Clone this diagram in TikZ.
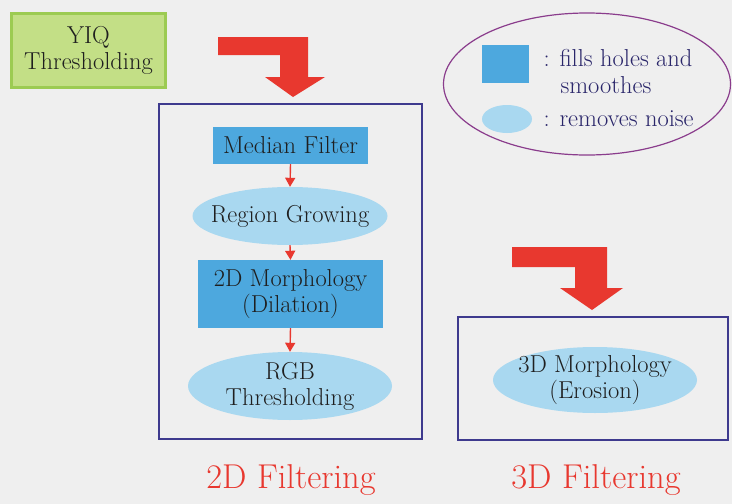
\documentclass[tikz,border=0pt]{standalone}
\usepackage{xcolor}
\definecolor{paper}{HTML}{EFEFEF}
\definecolor{textmain}{HTML}{1F1F1F}
\definecolor{legendtext}{HTML}{2A266A}
\definecolor{framecol}{HTML}{3E3A8E}
\definecolor{legendedge}{HTML}{8A3C8C}
\definecolor{boxblue}{HTML}{4DA8DE}
\definecolor{ovalblue}{HTML}{A9D8F0}
\definecolor{yiqfill}{HTML}{C3DF86}
\definecolor{yiqedge}{HTML}{9CCB52}
\definecolor{bigred}{HTML}{E8382F}
\usetikzlibrary{shapes.geometric, arrows.meta, positioning, calc}

\begin{document}
\begin{tikzpicture}[
        x=1pt, y=-1pt,
        font=\fontsize{24.5}{26}\selectfont,
        text=textmain,
        hardbox/.style={
            rectangle,
            fill=boxblue,
            inner sep=0pt,
            align=center
        },
        softoval/.style={
            ellipse,
            fill=ovalblue,
            inner xsep=-18pt, inner ysep=-10pt,
            align=center
        },
        stagebox/.style={
            rectangle,
            draw=framecol,
            line width=1.6pt,
            inner sep=0pt
        },
        flow/.style={draw=bigred, line width=1.4pt, -{Triangle[length=9pt, width=10pt]}},
        bigarrow/.style={fill=bigred},
        stagetitle/.style={anchor=base, text=bigred, font=\fontsize{34.5}{38}\selectfont},
        legendline/.style={anchor=base west, text=legendtext}
    ]

    % Page
    \useasboundingbox (0,0) rectangle (732,504);
    \fill[paper] (0,0) rectangle (732,504);

    % YIQ input
    \node[rectangle, fill=yiqfill, draw=yiqedge, line width=2.5pt, align=center,
          minimum width=154pt, minimum height=74pt, inner sep=0pt] (yiq) at (88.5,50.5) {YIQ\\Thresholding};

    % Big bent arrows
    \fill[bigarrow] (218,37) -- (308,37) -- (308,77) -- (325,77) -- (293,97) -- (265,77)
        -- (280,77) -- (280,55) -- (218,55) -- cycle;
    \fill[bigarrow] (512,247) -- (607,247) -- (607,288) -- (623,288) -- (592,310) -- (560,288)
        -- (575,288) -- (575,267) -- (512,267) -- cycle;

    % 2D filtering stage
    \node[stagebox, minimum width=263pt, minimum height=335pt] (frame2d) at (290.5,271.5) {};
    \node[hardbox, minimum width=155pt, minimum height=37pt] (median) at (290.5,145.5) {Median Filter};
    \node[softoval, minimum width=195pt, minimum height=58pt] (region) at (290,216) {Region Growing};
    \node[hardbox, minimum width=185pt, minimum height=68pt] (dilation) at (290.5,294) {2D Morphology\\(Dilation)};
    \node[softoval, minimum width=204pt, minimum height=68pt] (rgb) at (290,386) {RGB\\Thresholding};

    \draw[flow] (median.south) -- (region.north);
    \draw[flow] (region.south) -- (dilation.north);
    \draw[flow] (dilation.south) -- (rgb.north);

    \node[stagetitle] (title2d) at (291,488) {2D Filtering};

    % 3D filtering stage
    \node[stagebox, minimum width=270pt, minimum height=123pt] (frame3d) at (593,378.5) {};
    \node[softoval, minimum width=204pt, minimum height=66pt] (erosion) at (595,380) {3D Morphology\\(Erosion)};
    \node[stagetitle] (title3d) at (596,488) {3D Filtering};

    % Legend
    \node[ellipse, draw=legendedge, line width=1.2pt, minimum width=287pt, minimum height=142pt,
          inner sep=0pt] (legend) at (587,84) {};
    \node[hardbox, minimum width=47pt, minimum height=38pt] (keybox) at (505.5,64) {};
    \node[softoval, minimum width=50pt, minimum height=28pt] (keyoval) at (507,119) {};
    \node[legendline] (keyfill) at (540,66) {: fills holes and};
    \node[legendline] (keysmooth) at (557,93) {smoothes};
    \node[legendline] (keynoise) at (540,126) {: removes noise};

\end{tikzpicture}
\end{document}
